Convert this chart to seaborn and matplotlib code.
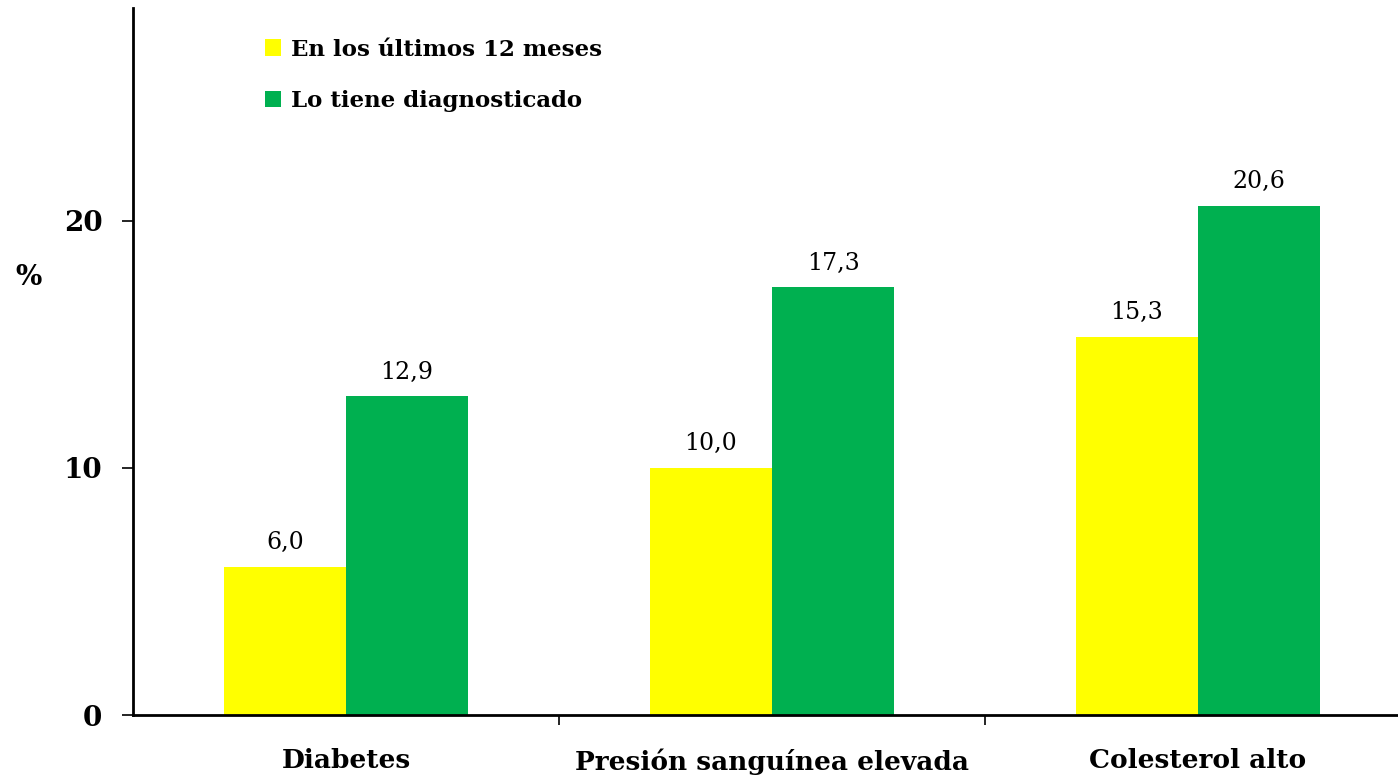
import matplotlib
matplotlib.use("Agg")
import matplotlib.pyplot as plt
import seaborn as sns
import pandas as pd
from matplotlib.patches import Patch

categories = ["Diabetes", "Presión sanguínea elevada", "Colesterol alto"]
series_names = ["En los últimos 12 meses", "Lo tiene diagnosticado"]
ultimos_12_meses = [6.0, 10.0, 15.3]
diagnosticado = [12.9, 17.3, 20.6]
y_ticks = [0, 10, 20]

colors = {series_names[0]: "#FFFF00", series_names[1]: "#00B050"}

df = pd.DataFrame({
    "categoria": categories * 2,
    "serie": [series_names[0]] * 3 + [series_names[1]] * 3,
    "valor": ultimos_12_meses + diagnosticado,
})

sns.set_theme(style="white")
plt.rcParams["font.family"] = ["DejaVu Serif"]
plt.rcParams["text.color"] = "black"
plt.rcParams["xtick.color"] = "black"
plt.rcParams["ytick.color"] = "black"

fig = plt.figure(figsize=(13.98, 7.75), dpi=100)
ax = fig.add_axes([133 / 1398, 1 - 715 / 775, 1278 / 1398, (715 - 8) / 775])

sns.barplot(data=df, x="categoria", y="valor", hue="serie", palette=colors,
            width=0.573, saturation=1, ax=ax, legend=False, linewidth=0)

for cont in ax.containers:
    ax.bar_label(cont, labels=[f"{b.get_height():.1f}".replace(".", ",") for b in cont],
                 padding=9, fontsize=17, color="black")

ax.set_xlim(-0.5, 2.5)
ax.set_ylim(0, 28.6)
ax.set_yticks(y_ticks)
ax.set_yticklabels([str(t) for t in y_ticks], fontsize=20, fontweight="bold", color="black")
ax.set_xticks(range(len(categories)))
ax.set_xticklabels(categories, fontsize=19, fontweight="bold", color="black")
ax.set_xticks([0.5, 1.5], minor=True)
ax.tick_params(axis="x", which="major", length=0, pad=24)
ax.tick_params(axis="x", which="minor", length=7, width=1.2, color="black", direction="out", bottom=True)
ax.tick_params(axis="y", which="major", length=8, width=1.2, color="black", direction="out", left=True, pad=14)
ax.set_xlabel("")
ax.set_ylabel("")

for side in ["top", "right"]:
    ax.spines[side].set_visible(False)
for side in ["left", "bottom"]:
    ax.spines[side].set_color("black")
    ax.spines[side].set_linewidth(2)

fig.text(28 / 1398, 1 - 278 / 775, "%", fontsize=20, fontweight="bold", ha="center", va="center",
         color="black")

handles = [Patch(facecolor=colors[s], edgecolor="none") for s in series_names]
leg = ax.legend(handles, series_names, loc="upper left", bbox_to_anchor=(0.087, 0.986),
                frameon=False, handlelength=0.7, handleheight=0.7, handletextpad=0.45,
                labelspacing=1.3, prop={"family": "DejaVu Serif", "weight": "bold", "size": 16.5})
for t in leg.get_texts():
    t.set_color("black")

fig.savefig("out.png", dpi=100)
